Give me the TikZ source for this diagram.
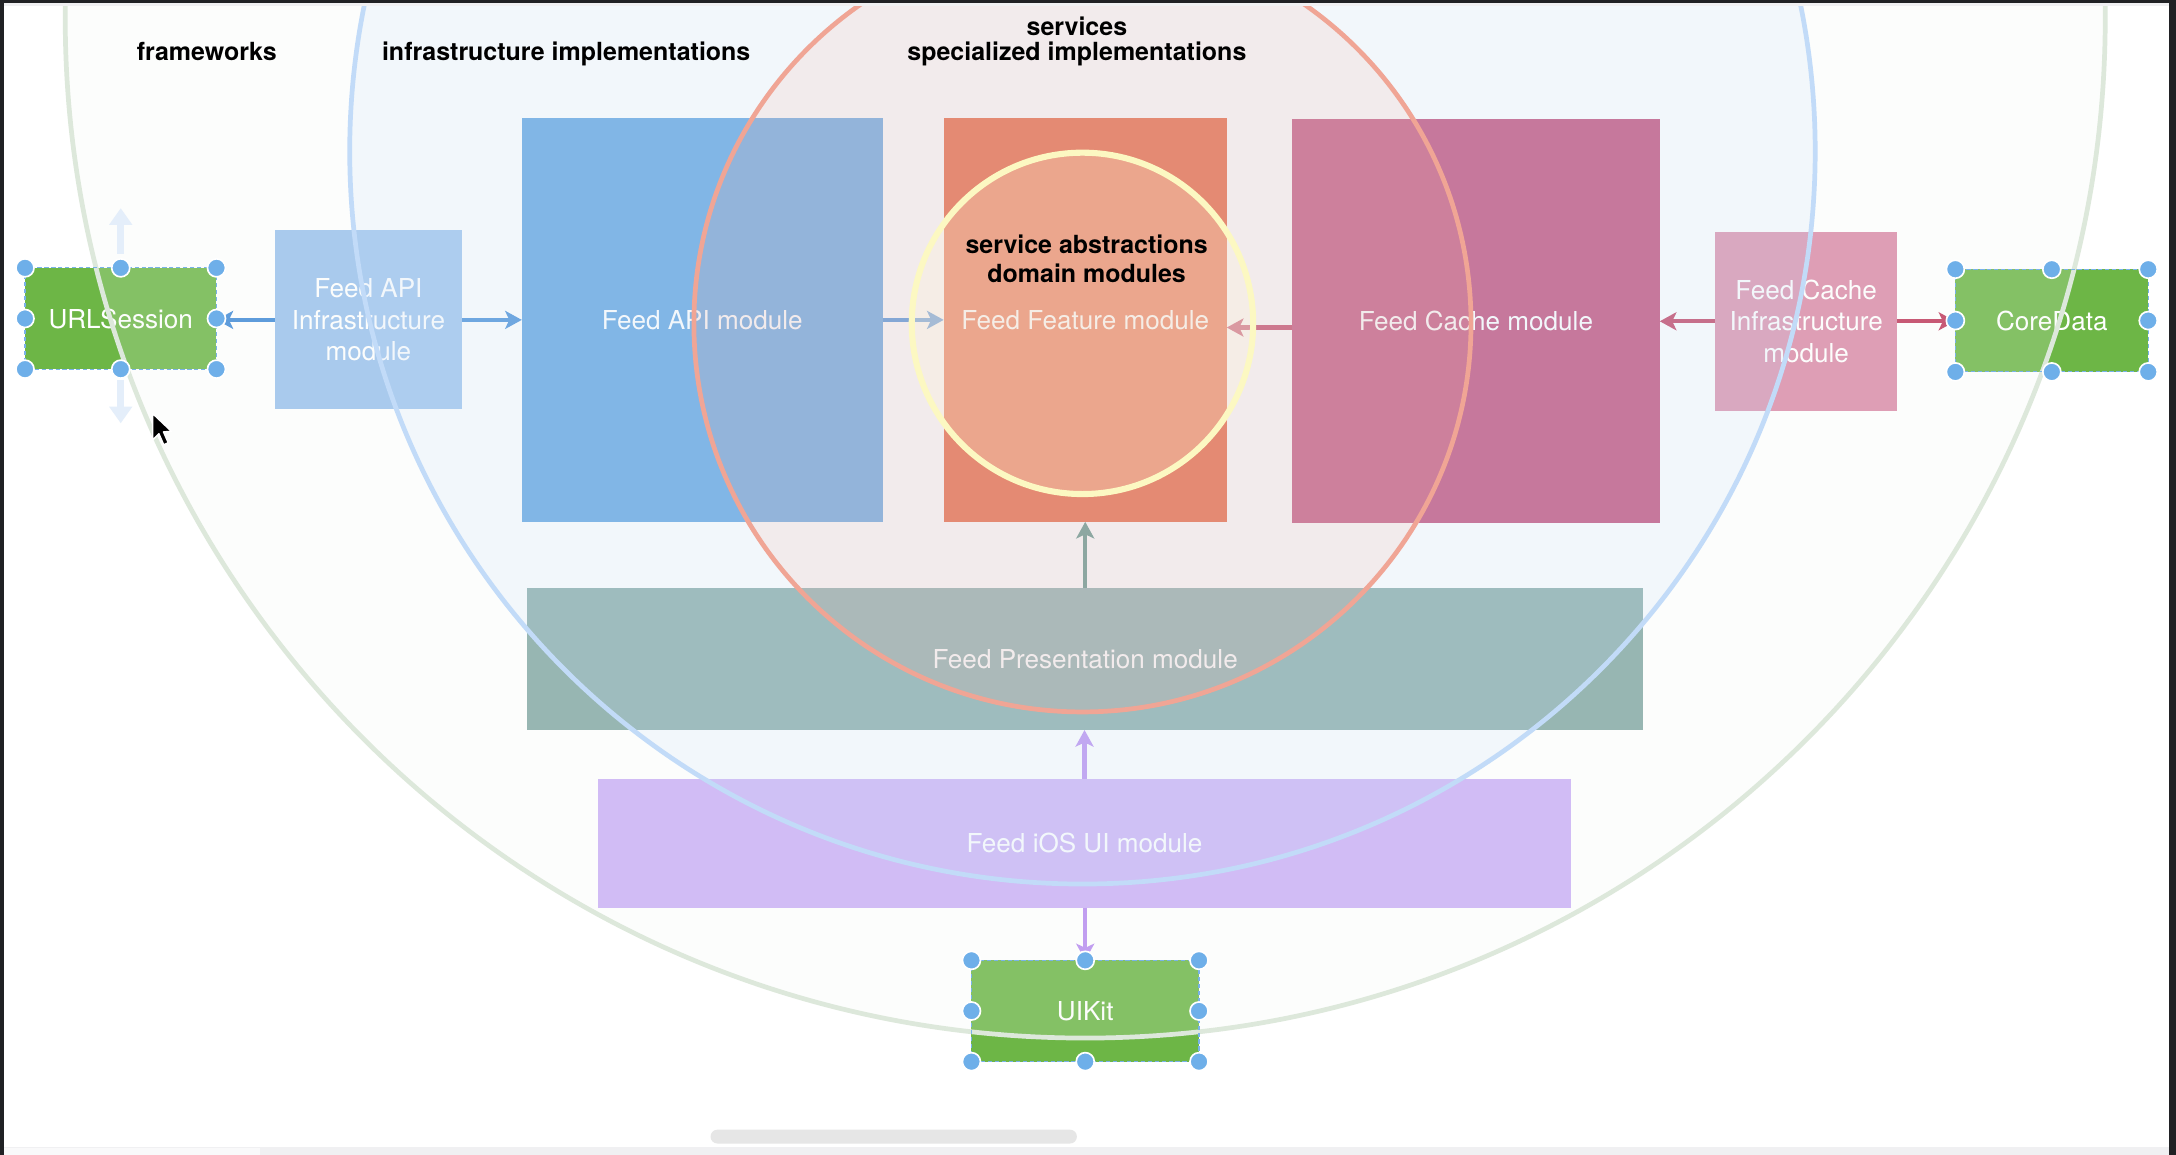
\documentclass[tikz,border=0pt]{standalone}
\usepackage{fontspec}
\setmainfont{TeX Gyre Heros}
\usetikzlibrary{arrows.meta,fit}
\newcommand{\bxfont}{\fontsize{9.4}{11.25}\selectfont}
\newcommand{\lbfont}{\bfseries\fontsize{9}{10.5}\selectfont}
\definecolor{apiU}{HTML}{599EE0}
\definecolor{featU}{HTML}{E6552B}
\definecolor{cacheU}{HTML}{BD4472}
\definecolor{cinfU}{HTML}{DA8BA8}
\definecolor{ainfU}{HTML}{9AC0ED}
\definecolor{presU}{HTML}{83A8A5}
\definecolor{iosU}{HTML}{CAB0F6}
\definecolor{fwU}{HTML}{6DB646}
\definecolor{apiArr}{HTML}{3E88D7}
\definecolor{cacheArr}{HTML}{BE375A}
\definecolor{presArr}{HTML}{4E8A7C}
\definecolor{iosArr}{HTML}{B78BF0}
\definecolor{ringG}{HTML}{DDE8DB}
\definecolor{tintG}{HTML}{F2F8F2}
\definecolor{ringB}{HTML}{C2DBF8}
\definecolor{tintB}{HTML}{C6DEFA}
\definecolor{ringR}{HTML}{F0A595}
\definecolor{tintR}{HTML}{F3AD9F}
\definecolor{ringY}{HTML}{FCF8C2}
\definecolor{tintY}{HTML}{FFF3D6}
\definecolor{handle}{HTML}{6EAFE9}
\definecolor{selln}{HTML}{79B2E8}
\definecolor{ghost}{HTML}{E4EEFA}
\definecolor{frame}{HTML}{202124}
\definecolor{strip}{HTML}{F0F0F2}
\definecolor{scrollc}{HTML}{E6E6E6}
\begin{document}
\begin{tikzpicture}[x=0.5pt,y=-0.5pt,
  mod/.style={inner sep=0pt, outer sep=0pt},
  txt/.style={text=white, font=\bxfont, inner sep=0pt, outer sep=0pt},
  txt3/.style={txt, align=center},
  arr/.style={line width=1.5pt, -{Stealth[length=6pt,width=6.5pt,inset=1.5pt]}},
  ring/.style={line width=1.7pt},
  lbl/.style={font=\lbfont, text=black, inner sep=0pt, anchor=base},
  sel/.style={draw=selln, line width=0.4pt, dash pattern=on 1.5pt off 1pt},
  hdl/.style={fill=handle, draw=white, line width=0.6pt},
  ghostarr/.style={draw=ghost, line width=2.5pt, -{Triangle[length=6pt,width=8pt]}}]
\useasboundingbox (0,0) rectangle (1568,832);
\clip (0,0) rectangle (1568,832);
\fill[white] (0,0) rectangle (1568,832);

% modules
\node[mod, fill=fwU, fit={(18,193)(156,266)}, label={[txt]center:URLSession}] (url) {};
\node[mod, fill=ainfU, fit={(198,166)(333,295)}, label={[txt3]center:Feed API\\Infrastructure\\module}] (ainf) {};
\node[mod, fill=apiU, fit={(376,85)(636,376)}, label={[txt]center:Feed API module}] (api) {};
\node[mod, fill=featU, fit={(680,85)(884,376)}, label={[txt]center:Feed Feature module}] (feat) {};
\node[mod, fill=cacheU, fit={(931,86)(1196,377)}, label={[txt]center:Feed Cache module}] (cache) {};
\node[mod, fill=cinfU, fit={(1236,167)(1367,296)}, label={[txt3]center:Feed Cache\\Infrastructure\\module}] (cinf) {};
\node[mod, fill=fwU, fit={(1409,194)(1548,268)}, label={[txt]center:CoreData}] (core) {};
\node[mod, fill=presU, fit={(380,424)(1184,526)}, label={[txt]center:Feed Presentation module}] (pres) {};
\node[mod, fill=iosU, fit={(431,561)(1132,654)}, label={[txt]center:Feed iOS UI module}] (ios) {};
\node[mod, fill=fwU, fit={(700,692)(864,765)}, label={[txt]center:UIKit}] (uikit) {};

% connectors
\draw[arr, apiArr] (ainf.west) -- (ainf.west -| url.east);
\draw[arr, apiArr] (ainf.east) -- (ainf.east -| api.west);
\draw[arr, apiArr] (api.east) -- (api.east -| feat.west);
\draw[arr, cacheArr] ([yshift=-2.25pt]cache.west) -- ([yshift=-2.25pt]cache.west -| feat.east);
\draw[arr, cacheArr] (cinf.west) -- (cinf.west -| cache.east);
\draw[arr, cacheArr] (cinf.east) -- (cinf.east -| core.west);
\draw[arr, presArr] (pres.north -| feat.south) -- (feat.south);
\draw[arr, iosArr] (ios.north) -- (ios.north |- pres.south);
\draw[arr, iosArr] (ios.south -| uikit.north) -- (uikit.north);

% layer rings
\draw[ring, draw=ringG, fill=tintG, fill opacity=0.18] (782,13) circle[radius=735];
\draw[ring, draw=ringB, fill=tintB, fill opacity=0.17] (780,109) circle[radius=528];
\draw[ring, draw=ringR, fill=tintR, fill opacity=0.16] (780,233) circle[radius=280];
\draw[line width=2.2pt, draw=ringY, fill=tintY, fill opacity=0.27] (780,233) circle[radius=123];

% layer labels
\node[lbl] (fwl) at (149,43.8) {frameworks};
\node[lbl] (infl) at (408,43.8) {infrastructure implementations};
\node[lbl] (svl) at (776,25.3) {services};
\node[lbl] (spl) at (776,43.5) {specialized implementations};
\node[lbl] (sal) at (783,182.5) {service abstractions};
\node[lbl] (dml) at (783,203.2) {domain modules};

% editor selection overlays
\draw[ghostarr] ([yshift=5pt]url.north) -- ([yshift=21.5pt]url.north);
\draw[ghostarr] ([yshift=-4pt]url.south) -- ([yshift=-19.5pt]url.south);
\foreach \n in {url,core,uikit}{
  \draw[sel] (\n.north west) rectangle (\n.south east);
  \foreach \a in {north west,north,north east,west,east,south west,south,south east}
    \filldraw[hdl] (\n.\a) circle[radius=6.5];
}

% mouse pointer
\filldraw[fill=black, draw=white, line width=0.5pt, line join=round]
  (110,298) -- (110,317) -- (114.5,312.5) -- (118,320.5) -- (121.2,319) -- (117.8,311.2) -- (123.5,310.8) -- cycle;

% window chrome
\fill[scrollc, rounded corners=2.5pt] (512,814) rectangle (776,824);
\fill[strip] (0,826.5) rectangle (1568,832);
\fill[white!60!strip] (3,827.5) rectangle (187,832);
\fill[strip] (0,2) rectangle (1568,4.5);
\fill[frame] (0,0) rectangle (1568,2);
\fill[frame] (0,0) rectangle (3,832);
\fill[frame] (1563,0) rectangle (1568,832);
\end{tikzpicture}
\end{document}
